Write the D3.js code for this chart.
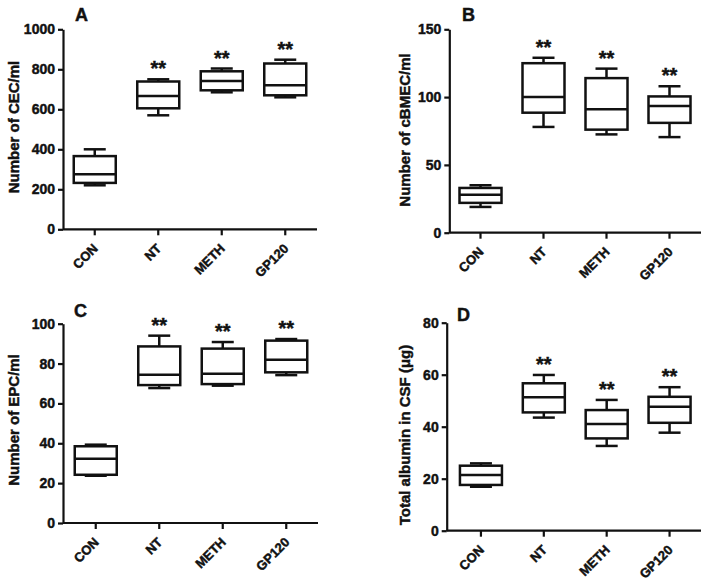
<!DOCTYPE html>
<html>
<head>
<meta charset="utf-8">
<script src="https://cdn.jsdelivr.net/npm/d3@7"></script>
<style>
  html, body { margin: 0; padding: 0; background: #fff; }
  svg { display: block; }
  text { font-family: "Liberation Sans", Arial, sans-serif; font-weight: bold; fill: #111; stroke: #111; stroke-width: 0.45px; }
</style>
</head>
<body>
<svg id="chart" width="710" height="586"></svg>
<script>
// ---- DATA ----
const categories = ["CON", "NT", "METH", "GP120"];

// box statistics per category: [min, Q1, median, Q3, max]
const cecStats = [
  [220, 232, 275, 366, 400],
  [570, 605, 666, 739, 750],
  [685, 695, 741, 790, 804],
  [660, 670, 720, 829, 848]
];
const cbmecStats = [
  [19, 22, 28, 33, 35],
  [78, 88.5, 100, 125, 129],
  [72.5, 76, 91, 114, 121],
  [70.5, 81, 93.5, 100.5, 108]
];
const epcStats = [
  [23.7, 24.2, 32.3, 38.5, 39.3],
  [67.7, 69.2, 74.4, 88.6, 94],
  [68.9, 69.7, 74.9, 87.5, 90.8],
  [74.2, 75.6, 81.9, 91.5, 92.3]
];
const albuminStats = [
  [16.9, 17.6, 21.4, 25, 25.9],
  [43.5, 45.5, 51.3, 56.7, 59.9],
  [32.6, 35.5, 41, 46.4, 50.3],
  [37.7, 41.5, 47.7, 51.5, 55.2]
];
// significance marks per category
const cecMarks = ["", "**", "**", "**"];
const cbmecMarks = ["", "**", "**", "**"];
const epcMarks = ["", "**", "**", "**"];
const albuminMarks = ["", "**", "**", "**"];

// tick labels
const cecTicks = [0, 200, 400, 600, 800, 1000];
const cbmecTicks = [0, 50, 100, 150];
const epcTicks = [0, 20, 40, 60, 80, 100];
const albuminTicks = [0, 20, 40, 60, 80];

// panel letters and axis titles
const panelLetters = ["A", "B", "C", "D"];
const yTitles = ["Number of CEC/ml", "Number of cBMEC/ml", "Number of EPC/ml", "Total albumin in CSF (\u03bcg)"];

// ---- LAYOUT ----
const panels = [
  { stats: cecStats, marks: cecMarks, ticks: cecTicks, yMax: 1000,
    axisX: 63, xRange: [63, 317], yRange: [229.3, 29.3],
    letter: [75, 21], title: [18.5, 127] },
  { stats: cbmecStats, marks: cbmecMarks, ticks: cbmecTicks, yMax: 150,
    axisX: 449.3, xRange: [449, 701], yRange: [232.7, 29.3],
    letter: [462, 21], title: [410, 130] },
  { stats: epcStats, marks: epcMarks, ticks: epcTicks, yMax: 100,
    axisX: 63, xRange: [64, 318], yRange: [523, 323.7],
    letter: [74, 317], title: [18.5, 420] },
  { stats: albuminStats, marks: albuminMarks, ticks: albuminTicks, yMax: 80,
    axisX: 446.7, xRange: [449.5, 701], yRange: [530.7, 322.7],
    letter: [457, 321], title: [410, 435] }
];

const svg = d3.select("#chart");
const ink = "#111";
const boxW = 42, capW = 22, lw = 2.5;

panels.forEach((p, i) => {
  const g = svg.append("g");
  const x = d3.scaleBand().domain(categories).range(p.xRange);
  const y = d3.scaleLinear().domain([0, p.yMax]).range(p.yRange);

  // y axis
  const yAxis = g.append("g")
    .attr("transform", `translate(${p.axisX},0)`)
    .call(d3.axisLeft(y).tickValues(p.ticks).tickFormat(d3.format("d"))
      .tickSize(5).tickSizeOuter(0).tickPadding(3));
  yAxis.select(".domain").attr("stroke", ink).attr("stroke-width", 2.2);
  yAxis.selectAll(".tick line").attr("stroke", ink).attr("stroke-width", 2.2);
  yAxis.selectAll(".tick text")
    .style("font-size", "14px").style("font-weight", "bold")
    .style("font-family", "'Liberation Sans', Arial, sans-serif").attr("fill", ink);

  // x axis
  const xAxis = g.append("g")
    .attr("transform", `translate(0,${p.yRange[0]})`)
    .call(d3.axisBottom(x).tickSize(6).tickSizeOuter(0));
  xAxis.select(".domain").attr("stroke", ink).attr("stroke-width", 2.2)
    .attr("d", `M${p.axisX},0H${x.range()[1]}`);
  xAxis.selectAll(".tick line").attr("stroke", ink).attr("stroke-width", 2.2);
  xAxis.selectAll(".tick text")
    .attr("x", 0).attr("y", 0).attr("dy", 0)
    .attr("text-anchor", "end")
    .attr("transform", "translate(4,20) rotate(-45)")
    .style("font-size", "13px").style("font-weight", "bold")
    .style("font-family", "'Liberation Sans', Arial, sans-serif").attr("fill", ink);

  // boxes
  const boxes = g.selectAll(".box").data(p.stats).enter().append("g")
    .attr("transform", (d, j) => `translate(${x(categories[j]) + x.bandwidth() / 2},0)`);
  boxes.append("line") // upper whisker
    .attr("x1", 0).attr("x2", 0)
    .attr("y1", d => y(d[3])).attr("y2", d => y(d[4]))
    .attr("stroke", ink).attr("stroke-width", lw);
  boxes.append("line") // lower whisker
    .attr("x1", 0).attr("x2", 0)
    .attr("y1", d => y(d[1])).attr("y2", d => y(d[0]))
    .attr("stroke", ink).attr("stroke-width", lw);
  boxes.append("line") // max cap
    .attr("x1", -capW / 2).attr("x2", capW / 2)
    .attr("y1", d => y(d[4])).attr("y2", d => y(d[4]))
    .attr("stroke", ink).attr("stroke-width", lw);
  boxes.append("line") // min cap
    .attr("x1", -capW / 2).attr("x2", capW / 2)
    .attr("y1", d => y(d[0])).attr("y2", d => y(d[0]))
    .attr("stroke", ink).attr("stroke-width", lw);
  boxes.append("rect")
    .attr("x", -boxW / 2).attr("width", boxW)
    .attr("y", d => y(d[3])).attr("height", d => y(d[1]) - y(d[3]))
    .attr("fill", "#fff").attr("stroke", ink).attr("stroke-width", lw);
  boxes.append("line") // median
    .attr("x1", -boxW / 2).attr("x2", boxW / 2)
    .attr("y1", d => y(d[2])).attr("y2", d => y(d[2]))
    .attr("stroke", ink).attr("stroke-width", lw);

  // significance marks
  boxes.append("text")
    .attr("text-anchor", "middle")
    .attr("y", d => y(d[4]) - 4)
    .style("font-size", "20px")
    .text((d, j) => p.marks[j]);

  // panel letter
  g.append("text")
    .attr("x", p.letter[0]).attr("y", p.letter[1])
    .style("font-size", "18px")
    .text(panelLetters[i]);

  // y title
  g.append("text")
    .attr("text-anchor", "middle")
    .attr("transform", `translate(${p.title[0]},${p.title[1]}) rotate(-90)`)
    .style("font-size", "15px")
    .text(yTitles[i]);
});
</script>
</body>
</html>
